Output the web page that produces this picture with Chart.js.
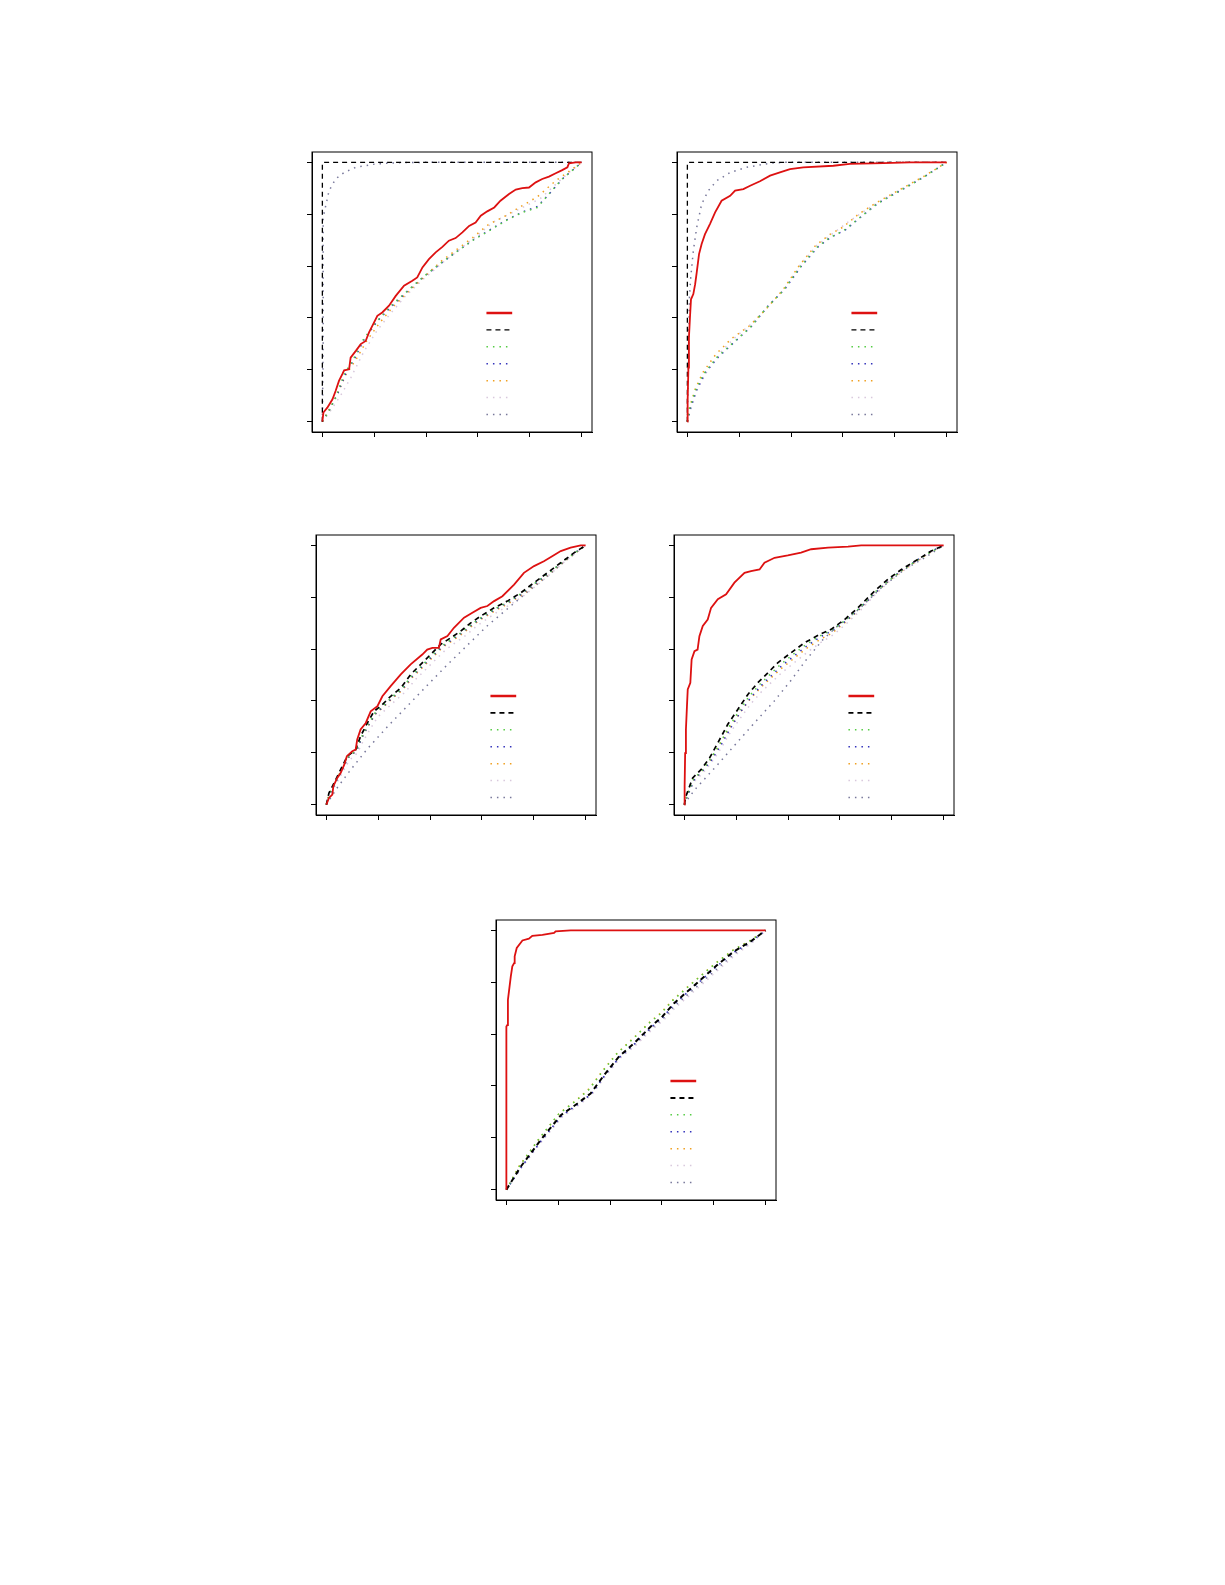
<!DOCTYPE html>
<html>
<head>
<meta charset="utf-8">
<script src="https://cdn.jsdelivr.net/npm/chart.js@4.4.1/dist/chart.umd.min.js"></script>
<style>
  body { margin: 0; background: #fff; width: 1225px; height: 1585px; position: relative; }
  canvas { position: absolute; }
</style>
</head>
<body>
<canvas id="c1" width="310" height="310" style="left:292px;top:142px;width:310px;height:310px"></canvas>
<canvas id="c2" width="310" height="310" style="left:657px;top:142px;width:310px;height:310px"></canvas>
<canvas id="c3" width="310" height="310" style="left:296px;top:525px;width:310px;height:310px"></canvas>
<canvas id="c4" width="310" height="310" style="left:654px;top:525px;width:310px;height:310px"></canvas>
<canvas id="c5" width="310" height="310" style="left:476px;top:910px;width:310px;height:310px"></canvas>
<script>
// tick positions on both axes (labels are not shown in the original)
const tickVals = [0, 0.2, 0.4, 0.6, 0.8, 1];

// ---- panel 1 (top left) : [false positive rate, true positive rate]
const p1Red = [[0,0],[0.004,0.035],[0.019,0.054],[0.039,0.086],[0.051,0.118],[0.064,0.157],[0.077,0.183],[0.084,0.198],[0.103,0.202],[0.109,0.247],[0.129,0.273],[0.148,0.299],[0.167,0.311],[0.18,0.344],[0.199,0.382],[0.212,0.408],[0.231,0.421],[0.257,0.447],[0.283,0.485],[0.315,0.524],[0.347,0.543],[0.366,0.556],[0.386,0.595],[0.411,0.627],[0.437,0.653],[0.463,0.674],[0.488,0.698],[0.514,0.708],[0.54,0.73],[0.566,0.755],[0.591,0.768],[0.611,0.794],[0.636,0.811],[0.663,0.826],[0.687,0.852],[0.72,0.878],[0.746,0.895],[0.771,0.901],[0.797,0.903],[0.823,0.923],[0.848,0.936],[0.874,0.945],[0.9,0.958],[0.925,0.97],[0.945,0.981],[0.951,0.996],[0.977,1],[1,1]];
const p1Black = [[0,0],[0,1],[1,1]];
const p1Green = [[0,0],[0.026,0.041],[0.051,0.093],[0.084,0.183],[0.116,0.234],[0.154,0.311],[0.206,0.382],[0.257,0.44],[0.321,0.498],[0.386,0.556],[0.45,0.607],[0.514,0.653],[0.578,0.698],[0.643,0.736],[0.707,0.775],[0.771,0.807],[0.829,0.826],[0.874,0.878],[0.925,0.936],[1,1]];
const p1Blue = [[0,0],[0.03,0.05],[0.06,0.11],[0.09,0.185],[0.125,0.245],[0.16,0.315],[0.21,0.385],[0.26,0.438],[0.33,0.505],[0.39,0.558],[0.46,0.612],[0.52,0.657],[0.585,0.703],[0.65,0.742],[0.71,0.778],[0.775,0.81],[0.83,0.83],[0.88,0.884],[0.93,0.94],[1,1]];
const p1Orange = [[0,0],[0.025,0.045],[0.055,0.1],[0.09,0.18],[0.13,0.24],[0.17,0.31],[0.22,0.38],[0.27,0.44],[0.33,0.5],[0.4,0.565],[0.46,0.62],[0.52,0.665],[0.58,0.71],[0.64,0.76],[0.707,0.794],[0.771,0.833],[0.829,0.867],[0.9,0.929],[1,1]];
const p1Pink = [[0,0],[0.03,0.04],[0.07,0.1],[0.11,0.17],[0.16,0.27],[0.21,0.35],[0.257,0.41],[0.321,0.485],[0.39,0.55],[0.46,0.61],[0.53,0.665],[0.6,0.72],[0.66,0.77],[0.72,0.8],[0.78,0.83],[0.84,0.86],[0.9,0.915],[0.95,0.96],[1,1]];
const p1Gray = [[0,0],[0.003,0.3],[0.003,0.788],[0.013,0.833],[0.026,0.891],[0.051,0.936],[0.084,0.961],[0.129,0.981],[0.206,0.994],[0.296,0.999],[0.386,1],[1,1]];

// ---- panel 2 (top right)
const p2Red = [[0,0],[0.001,0.08],[0.004,0.208],[0.006,0.324],[0.01,0.402],[0.014,0.472],[0.023,0.492],[0.03,0.53],[0.036,0.575],[0.045,0.646],[0.055,0.685],[0.068,0.723],[0.087,0.762],[0.107,0.807],[0.132,0.852],[0.165,0.871],[0.184,0.891],[0.216,0.897],[0.242,0.91],[0.28,0.927],[0.319,0.949],[0.357,0.961],[0.396,0.974],[0.447,0.981],[0.563,0.987],[0.627,0.994],[0.756,0.997],[0.859,1],[1,1]];
const p2Black = [[0,0],[0,1],[1,1]];
const p2Green = [[0,0],[0.01,0.054],[0.03,0.118],[0.062,0.183],[0.113,0.247],[0.177,0.305],[0.242,0.363],[0.306,0.44],[0.37,0.505],[0.434,0.595],[0.499,0.672],[0.55,0.71],[0.602,0.736],[0.666,0.788],[0.73,0.839],[0.82,0.891],[0.91,0.942],[1,1]];
const p2Blue = [[0,0],[0.012,0.05],[0.035,0.12],[0.07,0.19],[0.12,0.25],[0.185,0.31],[0.25,0.37],[0.31,0.445],[0.375,0.51],[0.44,0.6],[0.505,0.675],[0.555,0.712],[0.61,0.74],[0.67,0.79],[0.735,0.842],[0.825,0.893],[0.915,0.945],[1,1]];
const p2Orange = [[0,0],[0.01,0.06],[0.03,0.125],[0.06,0.19],[0.11,0.26],[0.17,0.32],[0.24,0.37],[0.3,0.43],[0.37,0.51],[0.43,0.6],[0.495,0.68],[0.55,0.722],[0.6,0.75],[0.66,0.8],[0.73,0.845],[0.82,0.895],[0.91,0.945],[1,1]];
const p2Pink = [[0,0],[0.015,0.06],[0.04,0.13],[0.08,0.2],[0.13,0.27],[0.19,0.33],[0.25,0.38],[0.31,0.44],[0.38,0.52],[0.44,0.61],[0.5,0.68],[0.56,0.725],[0.62,0.77],[0.68,0.81],[0.75,0.855],[0.83,0.9],[0.92,0.95],[1,1]];
const p2Gray = [[0,0],[0.003,0.183],[0.008,0.479],[0.013,0.556],[0.023,0.659],[0.036,0.749],[0.055,0.839],[0.081,0.891],[0.113,0.929],[0.165,0.961],[0.229,0.981],[0.319,0.997],[0.37,1],[1,1]];

// ---- panel 3 (middle left)
const p3Red = [[0,0],[0.01,0.026],[0.023,0.039],[0.027,0.071],[0.042,0.103],[0.055,0.122],[0.069,0.154],[0.079,0.187],[0.1,0.206],[0.113,0.212],[0.119,0.251],[0.132,0.29],[0.152,0.315],[0.171,0.36],[0.197,0.38],[0.216,0.418],[0.248,0.457],[0.287,0.502],[0.325,0.541],[0.37,0.579],[0.389,0.598],[0.409,0.605],[0.434,0.605],[0.441,0.637],[0.467,0.65],[0.492,0.682],[0.531,0.721],[0.563,0.74],[0.595,0.759],[0.621,0.766],[0.647,0.785],[0.679,0.804],[0.724,0.849],[0.762,0.894],[0.801,0.92],[0.839,0.939],[0.871,0.958],[0.904,0.978],[0.942,0.991],[0.981,1],[1,1]];
const p3Black = [[0,0],[0.01,0.045],[0.03,0.084],[0.055,0.135],[0.081,0.187],[0.113,0.212],[0.132,0.264],[0.158,0.315],[0.184,0.36],[0.216,0.386],[0.248,0.418],[0.287,0.45],[0.325,0.502],[0.364,0.541],[0.402,0.579],[0.441,0.618],[0.479,0.643],[0.518,0.669],[0.557,0.701],[0.595,0.727],[0.647,0.759],[0.698,0.785],[0.75,0.817],[0.801,0.856],[0.852,0.894],[0.904,0.933],[0.955,0.971],[1,1]];
const p3Green = [[0,0],[0.012,0.042],[0.033,0.083],[0.058,0.133],[0.084,0.184],[0.115,0.21],[0.135,0.26],[0.161,0.31],[0.188,0.354],[0.22,0.382],[0.252,0.414],[0.291,0.447],[0.329,0.497],[0.368,0.536],[0.406,0.574],[0.445,0.612],[0.483,0.638],[0.522,0.665],[0.561,0.697],[0.599,0.723],[0.651,0.756],[0.702,0.783],[0.753,0.815],[0.804,0.854],[0.855,0.892],[0.906,0.932],[0.956,0.97],[1,1]];
const p3Blue = [[0,0],[0.013,0.041],[0.034,0.082],[0.059,0.131],[0.085,0.182],[0.117,0.208],[0.137,0.258],[0.163,0.307],[0.19,0.351],[0.222,0.38],[0.254,0.412],[0.293,0.445],[0.331,0.494],[0.37,0.533],[0.408,0.571],[0.447,0.609],[0.485,0.636],[0.524,0.663],[0.563,0.695],[0.601,0.721],[0.653,0.754],[0.704,0.781],[0.755,0.813],[0.806,0.852],[0.856,0.891],[0.907,0.931],[0.957,0.97],[1,1]];
const p3Orange = [[0,0],[0.01,0.04],[0.03,0.08],[0.055,0.128],[0.083,0.18],[0.115,0.207],[0.135,0.255],[0.162,0.305],[0.19,0.35],[0.222,0.378],[0.255,0.41],[0.295,0.443],[0.333,0.492],[0.372,0.53],[0.41,0.568],[0.449,0.607],[0.487,0.633],[0.526,0.66],[0.565,0.692],[0.603,0.719],[0.655,0.75],[0.706,0.778],[0.757,0.81],[0.808,0.85],[0.858,0.89],[0.908,0.93],[0.957,0.968],[1,1]];
const p3Pink = [[0,0],[0.012,0.038],[0.035,0.075],[0.06,0.12],[0.088,0.17],[0.12,0.2],[0.142,0.245],[0.17,0.293],[0.198,0.338],[0.23,0.368],[0.265,0.4],[0.305,0.435],[0.343,0.482],[0.382,0.52],[0.42,0.558],[0.46,0.597],[0.498,0.625],[0.537,0.652],[0.575,0.685],[0.613,0.712],[0.663,0.745],[0.713,0.774],[0.763,0.807],[0.813,0.847],[0.862,0.888],[0.91,0.93],[0.958,0.968],[1,1]];
const p3Gray = [[0,0],[0.042,0.065],[0.094,0.135],[0.158,0.215],[0.235,0.3],[0.312,0.38],[0.389,0.46],[0.467,0.54],[0.544,0.615],[0.621,0.69],[0.698,0.755],[0.775,0.82],[0.852,0.88],[0.929,0.946],[1,1]];

// ---- panel 4 (middle right)
const p4Red = [[0,0],[0.001,0.071],[0.003,0.199],[0.006,0.29],[0.01,0.38],[0.013,0.444],[0.023,0.47],[0.028,0.56],[0.039,0.592],[0.051,0.598],[0.058,0.65],[0.071,0.689],[0.09,0.714],[0.103,0.759],[0.129,0.792],[0.161,0.811],[0.193,0.856],[0.232,0.894],[0.257,0.901],[0.29,0.907],[0.309,0.933],[0.348,0.952],[0.399,0.961],[0.45,0.972],[0.489,0.985],[0.554,0.991],[0.631,0.995],[0.682,1],[1,1]];
const p4Black = [[0,0],[0.006,0.032],[0.032,0.103],[0.064,0.135],[0.097,0.18],[0.129,0.238],[0.167,0.309],[0.206,0.367],[0.245,0.425],[0.283,0.47],[0.322,0.508],[0.36,0.547],[0.412,0.586],[0.463,0.624],[0.521,0.656],[0.566,0.676],[0.618,0.714],[0.669,0.759],[0.734,0.824],[0.785,0.869],[0.837,0.907],[0.901,0.946],[0.952,0.978],[1,1]];
const p4Green = [[0,0],[0.008,0.03],[0.035,0.098],[0.068,0.132],[0.1,0.175],[0.135,0.232],[0.172,0.3],[0.21,0.36],[0.25,0.418],[0.29,0.463],[0.33,0.502],[0.37,0.54],[0.42,0.58],[0.47,0.618],[0.525,0.652],[0.57,0.674],[0.62,0.71],[0.672,0.755],[0.735,0.82],[0.79,0.865],[0.84,0.905],[0.9,0.944],[0.952,0.976],[1,1]];
const p4Blue = [[0,0],[0.01,0.03],[0.038,0.095],[0.07,0.13],[0.105,0.172],[0.14,0.228],[0.178,0.295],[0.215,0.355],[0.255,0.412],[0.295,0.458],[0.335,0.497],[0.375,0.535],[0.425,0.575],[0.475,0.614],[0.53,0.65],[0.575,0.673],[0.625,0.71],[0.675,0.755],[0.74,0.82],[0.79,0.866],[0.84,0.905],[0.9,0.945],[0.952,0.977],[1,1]];
const p4Orange = [[0,0],[0.008,0.03],[0.035,0.095],[0.068,0.128],[0.1,0.17],[0.133,0.225],[0.172,0.293],[0.21,0.348],[0.25,0.403],[0.29,0.447],[0.33,0.485],[0.37,0.522],[0.42,0.562],[0.47,0.602],[0.525,0.638],[0.57,0.662],[0.62,0.703],[0.672,0.75],[0.735,0.815],[0.788,0.862],[0.84,0.902],[0.902,0.943],[0.953,0.976],[1,1]];
const p4Pink = [[0,0],[0.01,0.028],[0.038,0.09],[0.072,0.122],[0.105,0.163],[0.14,0.215],[0.178,0.28],[0.217,0.335],[0.257,0.39],[0.297,0.435],[0.337,0.473],[0.377,0.51],[0.427,0.55],[0.477,0.59],[0.53,0.628],[0.575,0.655],[0.625,0.698],[0.676,0.746],[0.738,0.812],[0.79,0.86],[0.842,0.9],[0.903,0.942],[0.954,0.976],[1,1]];
const p4Gray = [[0,0],[0.019,0.03],[0.046,0.064],[0.129,0.155],[0.193,0.228],[0.27,0.315],[0.317,0.367],[0.347,0.4],[0.412,0.48],[0.471,0.56],[0.535,0.637],[0.592,0.69],[0.669,0.75],[0.759,0.836],[0.849,0.907],[0.927,0.952],[1,1]];

// ---- panel 5 (bottom centre)
const p5Red = [[0,0],[0,0.629],[0.004,0.635],[0.006,0.732],[0.017,0.822],[0.023,0.861],[0.03,0.874],[0.032,0.9],[0.04,0.932],[0.062,0.961],[0.087,0.968],[0.1,0.979],[0.139,0.983],[0.184,0.99],[0.19,0.996],[0.248,1],[1,1]];
const p5Black = [[0,0],[0.055,0.088],[0.132,0.191],[0.21,0.287],[0.274,0.332],[0.325,0.371],[0.377,0.442],[0.434,0.513],[0.492,0.564],[0.557,0.629],[0.602,0.668],[0.647,0.719],[0.698,0.764],[0.749,0.809],[0.814,0.867],[0.878,0.919],[0.942,0.957],[1,1]];
const p5Green = [[0,0],[0.05,0.09],[0.125,0.195],[0.2,0.29],[0.265,0.34],[0.318,0.385],[0.37,0.455],[0.427,0.525],[0.485,0.578],[0.55,0.642],[0.597,0.68],[0.642,0.73],[0.693,0.775],[0.745,0.82],[0.81,0.875],[0.875,0.924],[0.94,0.96],[1,1]];
const p5Blue = [[0,0],[0.057,0.086],[0.134,0.188],[0.212,0.284],[0.276,0.33],[0.327,0.369],[0.379,0.44],[0.436,0.511],[0.494,0.562],[0.559,0.627],[0.604,0.666],[0.649,0.717],[0.7,0.762],[0.751,0.807],[0.816,0.865],[0.88,0.917],[0.943,0.956],[1,1]];
const p5Orange = [[0,0],[0.05,0.092],[0.128,0.198],[0.205,0.295],[0.27,0.345],[0.32,0.39],[0.372,0.46],[0.43,0.53],[0.487,0.582],[0.552,0.645],[0.598,0.684],[0.643,0.733],[0.694,0.778],[0.746,0.822],[0.81,0.876],[0.876,0.925],[0.94,0.961],[1,1]];
const p5Pink = [[0,0],[0.058,0.084],[0.136,0.185],[0.215,0.28],[0.28,0.326],[0.33,0.366],[0.383,0.438],[0.44,0.508],[0.498,0.556],[0.563,0.618],[0.608,0.655],[0.653,0.703],[0.705,0.748],[0.756,0.793],[0.82,0.85],[0.883,0.905],[0.945,0.95],[1,1]];
const p5Gray = [[0,0],[0.057,0.085],[0.134,0.187],[0.213,0.282],[0.278,0.328],[0.328,0.368],[0.381,0.44],[0.438,0.51],[0.496,0.56],[0.561,0.622],[0.606,0.66],[0.651,0.71],[0.703,0.755],[0.754,0.8],[0.818,0.856],[0.881,0.91],[0.944,0.953],[1,1]];

// line styles, same order for every panel
const seriesStyle = [
  { color: '#dd1111', dash: [], width: 1.8 },
  { color: '#000000', dash: [5, 4], width: 1.3 },
  { color: '#55cc44', dash: [1.5, 5], width: 1.5 },
  { color: '#3333bb', dash: [1.5, 5], width: 1.5 },
  { color: '#f0a020', dash: [1.5, 5], width: 1.5 },
  { color: '#d8c8dc', dash: [1.5, 5], width: 1.5 },
  { color: '#77779a', dash: [1.5, 5], width: 1.5 }
];

// frame around the plot area
const boxPlugin = {
  id: 'box',
  afterDraw(chart) {
    const a = chart.chartArea, ctx = chart.ctx;
    ctx.save();
    ctx.strokeStyle = '#000';
    ctx.lineWidth = 1;
    ctx.strokeRect(a.left, a.top, a.right - a.left, a.bottom - a.top);
    ctx.restore();
  }
};

// legend with line samples only (no text in the original)
const legendLines = {
  id: 'legendLines',
  afterDatasetsDraw(chart) {
    const a = chart.chartArea, ctx = chart.ctx;
    const w = a.right - a.left, h = a.bottom - a.top;
    chart.data.datasets.forEach((ds, i) => {
      const y = a.top + h * (0.575 + 0.0604 * i);
      ctx.save();
      ctx.strokeStyle = ds.borderColor;
      ctx.lineWidth = ds.borderWidth + (i === 0 ? 0.7 : 0);
      ctx.setLineDash(ds.borderDash);
      ctx.beginPath();
      ctx.moveTo(a.left + w * 0.623, y);
      ctx.lineTo(a.left + w * 0.715, y);
      ctx.stroke();
      ctx.restore();
    });
  }
};

function axis(isX) {
  return {
    type: 'linear',
    min: -0.04,
    max: 1.04,
    afterBuildTicks: (ax) => { ax.ticks = tickVals.map(v => ({ value: v })); },
    afterFit: (ax) => { if (isX) ax.height = 20; else ax.width = 20; },
    ticks: { display: false },
    grid: { display: true, drawOnChartArea: false, drawTicks: true, tickLength: 5, color: '#000', lineWidth: 1 },
    border: { display: true, color: '#000', width: 1 }
  };
}

function makePanel(id, series, dashWidth) {
  const ctx = document.getElementById(id).getContext('2d');
  new Chart(ctx, {
    type: 'line',
    data: {
      datasets: series.map((pts, i) => ({
        data: pts.map(p => ({ x: p[0], y: p[1] })),
        borderColor: seriesStyle[i].color,
        borderDash: seriesStyle[i].dash,
        borderWidth: i === 1 ? dashWidth : seriesStyle[i].width,
        pointRadius: 0,
        tension: 0,
        fill: false
      }))
    },
    options: {
      responsive: false,
      animation: false,
      layout: { padding: { left: 0, top: 10, right: 10, bottom: 0 } },
      plugins: { legend: { display: false }, tooltip: { enabled: false } },
      scales: { x: axis(true), y: axis(false) }
    },
    plugins: [boxPlugin, legendLines]
  });
}

makePanel('c1', [p1Red, p1Black, p1Green, p1Blue, p1Orange, p1Pink, p1Gray], 1.3);
makePanel('c2', [p2Red, p2Black, p2Green, p2Blue, p2Orange, p2Pink, p2Gray], 1.3);
makePanel('c3', [p3Red, p3Black, p3Green, p3Blue, p3Orange, p3Pink, p3Gray], 1.7);
makePanel('c4', [p4Red, p4Black, p4Green, p4Blue, p4Orange, p4Pink, p4Gray], 1.7);
makePanel('c5', [p5Red, p5Black, p5Green, p5Blue, p5Orange, p5Pink, p5Gray], 2);
</script>
</body>
</html>
